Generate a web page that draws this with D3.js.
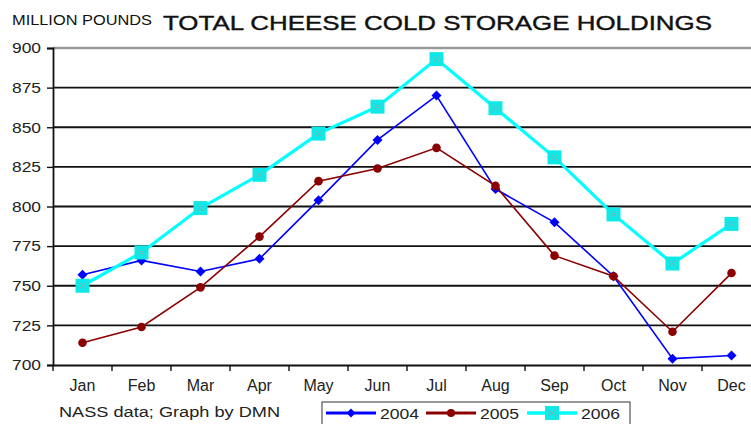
<!DOCTYPE html>
<html><head><meta charset="utf-8">
<script src="https://cdn.jsdelivr.net/npm/d3@7"></script>
<style>
html,body{margin:0;padding:0;background:#fff;}
svg{display:block;font-family:"Liberation Sans",Arial,sans-serif;}
</style></head>
<body><svg id="c" width="751" height="424"></svg>
<script>
const months = ["Jan","Feb","Mar","Apr","May","Jun","Jul","Aug","Sep","Oct","Nov","Dec"];
const yTicks = [700,725,750,775,800,825,850,875,900];
const s2004 = [757,766,759,767,804,842,870,811,790,756,704,706];
const s2005 = [714,724,749,781,816,824,837,813,769,756,721,758];
const s2006 = [750,771,799,820,846,863,893,862,831,795,764,789];
const seriesNames = ["2004","2005","2006"];

const svg = d3.select("#c");
const x = d3.scaleBand().domain(months).range([53, 761]);
const y = d3.scaleLinear().domain([700, 900]).range([365, 48]);
const diamond = r => `M0,${-r}L${r},0L0,${r}L${-r},0Z`;

// gridlines
svg.append("g").selectAll("line").data(yTicks.filter(t => t > 700 && t < 900)).join("line")
  .attr("x1", 53).attr("x2", 751).attr("y1", d => y(d)).attr("y2", d => y(d))
  .attr("stroke", "#111").attr("stroke-width", 1.8);
// top border
svg.append("line").attr("x1", 53).attr("x2", 751).attr("y1", y(900)).attr("y2", y(900))
  .attr("stroke", "#999").attr("stroke-width", 2.5);

// y axis
const yAxis = svg.append("g").attr("transform", "translate(53,0)")
  .call(d3.axisLeft(y).tickValues(yTicks).tickSize(6).tickPadding(6).tickFormat(d3.format("d")));
yAxis.select(".domain").attr("stroke", "#111").attr("stroke-width", 1.8);
yAxis.selectAll(".tick line").attr("stroke", "#111").attr("stroke-width", 1.4);
yAxis.selectAll("text").attr("font-size", 15).attr("fill", "#222")
  .attr("textLength", 29).attr("lengthAdjust", "spacingAndGlyphs")
  .attr("font-family", "Liberation Sans, Arial, sans-serif");

// x axis
const xAxis = svg.append("g").attr("transform", "translate(0,365)")
  .call(d3.axisBottom(x).tickSize(0).tickPadding(15));
xAxis.select(".domain").attr("stroke", "#111").attr("stroke-width", 2);
xAxis.selectAll("text").attr("font-size", 16).attr("fill", "#222")
  .attr("font-family", "Liberation Sans, Arial, sans-serif");
// boundary tick marks
svg.append("g").selectAll("line").data(months).join("line")
  .attr("x1", d => x(d)).attr("x2", d => x(d)).attr("y1", 365).attr("y2", 371)
  .attr("stroke", "#111").attr("stroke-width", 1.4);

const cx = d => x(d) + x.bandwidth() / 2;
const line = d3.line().x((d, i) => cx(months[i])).y(d => y(d));

// 2004
svg.append("path").datum(s2004).attr("d", line).attr("fill", "none")
  .attr("stroke", "#0000ff").attr("stroke-width", 1.6);
svg.append("g").selectAll("path").data(s2004).join("path")
  .attr("d", diamond(5))
  .attr("transform", (d, i) => `translate(${cx(months[i])},${y(d)})`)
  .attr("fill", "#0000ff");

// 2005
svg.append("path").datum(s2005).attr("d", line).attr("fill", "none")
  .attr("stroke", "#8b0000").attr("stroke-width", 1.6);
svg.append("g").selectAll("circle").data(s2005).join("circle")
  .attr("cx", (d, i) => cx(months[i])).attr("cy", d => y(d)).attr("r", 4.3)
  .attr("fill", "#8b0000");

// 2006
svg.append("path").datum(s2006).attr("d", line).attr("fill", "none")
  .attr("stroke", "#00ffff").attr("stroke-width", 3.2);
const sq = svg.append("g").selectAll("g").data(s2006).join("g")
  .attr("transform", (d, i) => `translate(${cx(months[i])},${y(d)})`);
sq.append("rect").attr("x", -7).attr("y", -7).attr("width", 14).attr("height", 14).attr("fill", "#10e8e8");
sq.append("path").attr("d", "M-3,-3L3,3M-3,3L3,-3").attr("stroke", "#7fb0b0").attr("stroke-width", 1);

// titles
svg.append("text").attr("x", 12).attr("y", 25).attr("font-size", 15)
  .attr("textLength", 140).attr("lengthAdjust", "spacingAndGlyphs")
  .attr("fill", "#111").text("MILLION POUNDS");
svg.append("text").attr("x", 163).attr("y", 30).attr("font-size", 21)
  .attr("textLength", 549).attr("lengthAdjust", "spacingAndGlyphs")
  .attr("fill", "#111").attr("stroke", "#111").attr("stroke-width", 0.4)
  .text("TOTAL CHEESE COLD STORAGE HOLDINGS");

// source
svg.append("text").attr("x", 59).attr("y", 417).attr("font-size", 14)
  .attr("textLength", 221).attr("lengthAdjust", "spacingAndGlyphs")
  .attr("fill", "#222").text("NASS data; Graph by DMN");

// legend
const lg = svg.append("g");
lg.append("rect").attr("x", 322).attr("y", 402).attr("width", 308).attr("height", 30)
  .attr("fill", "#fff").attr("stroke", "#555").attr("stroke-width", 1.2);
const legX = [326, 426, 527];
const colors = ["#0000ff", "#8b0000", "#00ffff"];
const widths = [3, 3, 3.5];
seriesNames.forEach((n, i) => {
  const g = lg.append("g");
  g.append("line").attr("x1", legX[i]).attr("x2", legX[i] + 50).attr("y1", 413).attr("y2", 413)
    .attr("stroke", colors[i]).attr("stroke-width", widths[i]);
  if (i === 0) g.append("path").attr("d", diamond(4.5)).attr("transform", `translate(${legX[i]+25},413)`).attr("fill", colors[i]);
  if (i === 1) g.append("circle").attr("cx", legX[i] + 25).attr("cy", 413).attr("r", 4).attr("fill", colors[i]);
  if (i === 2) {
    g.append("rect").attr("x", legX[i] + 18).attr("y", 406).attr("width", 14).attr("height", 14).attr("fill", "#10e8e8");
    g.append("path").attr("d", `M${legX[i]+22},410L${legX[i]+28},416M${legX[i]+22},416L${legX[i]+28},410`).attr("stroke", "#7fb0b0");
  }
  g.append("text").attr("x", legX[i] + 54).attr("y", 418.5).attr("font-size", 15)
    .attr("textLength", 39).attr("lengthAdjust", "spacingAndGlyphs")
    .attr("fill", "#222").text(n);
});
</script></body></html>
